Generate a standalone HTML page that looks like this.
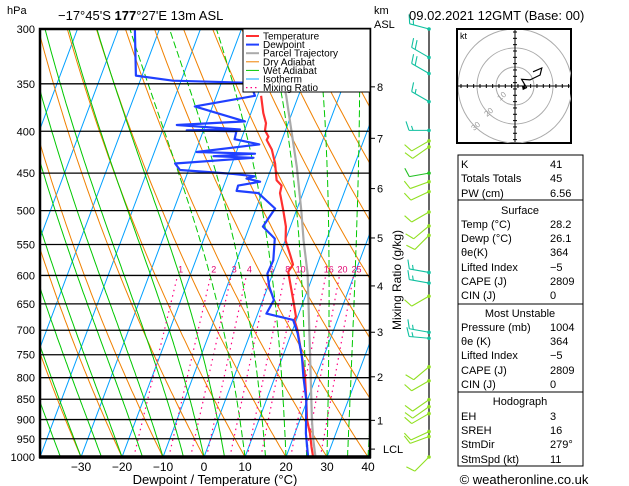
<!DOCTYPE html>
<html><head><meta charset="utf-8"><style>
body{margin:0;background:#fff;}
svg{display:block;font-family:"Liberation Sans",sans-serif;}
</style></head><body>
<svg id="c" width="629" height="486" viewBox="0 0 629 486" xmlns="http://www.w3.org/2000/svg">
<defs><clipPath id="pc"><rect x="40" y="29" width="330" height="428"/></clipPath>
<clipPath id="hc"><rect x="458" y="30" width="113" height="113"/></clipPath></defs>
<g id="grid" clip-path="url(#pc)"></g>
<g id="series" clip-path="url(#pc)"></g>
<g id="axes"></g>
<g id="barbs"></g>
<g id="hodo"></g>
<g id="tables" font-size="11" fill="#000"></g>
<text x="7" y="14" font-size="11">hPa</text>
<text x="58" y="20" font-size="13">−17°45'S <tspan font-weight="bold">177</tspan>°27'E 13m ASL</text>
<text x="374" y="14" font-size="11">km</text>
<text x="374" y="28" font-size="11">ASL</text>
<text x="409" y="20" font-size="13">09.02.2021 12GMT (Base: 00)</text>
<text x="215" y="484" font-size="13" text-anchor="middle">Dewpoint / Temperature (°C)</text>
<text x="0" y="0" font-size="12" text-anchor="middle" transform="translate(401,280) rotate(-90)">Mixing Ratio (g/kg)</text>
<text x="524" y="484" font-size="13" text-anchor="middle">© weatheronline.co.uk</text>
</svg>
<script>
// ---- data ----
const tempP=[362,380,391,399,406,410,421,438,459,466,476,500,523,544,568,582,594,643,674,680,700,754,798,851,900,936,972,1000];
const tempT=[-19.1,-17.0,-15.4,-15.0,-13.6,-13.7,-11.6,-9.5,-7.6,-5.9,-5.6,-3.2,-1.1,0.1,2.7,4.1,3.6,7.4,9.6,9.5,11.2,14.7,17.3,19.7,21.7,23.7,25.3,26.6];
const dewP=[301,342,347,349,362,373,389,393,398,399,400,409,415,424,426,429,431,438,446,451,454,457,461,466,473,476,497,523,541,575,597,619,643,668,680,706,754,798,851,936,1000];
const dewT=[-55.9,-51.5,-42,-23,-20.6,-34.3,-20.7,-37.0,-21.2,-34.1,-21.9,-21.6,-15.1,-29.7,-15.3,-25.2,-15.3,-33.9,-32.1,-18.8,-13.3,-15.1,-11.5,-16.5,-16.4,-10.9,-5.4,-6.7,-2.7,-1.1,-1.3,0.3,2.7,2.1,9.2,11.5,14.7,16.9,19.7,22.7,25.4];
const parcelP=[1000,953,900,754,597,544,500,442,362,300];
const parcelT=[27.2,25.1,22.9,16.7,8.5,4.5,1.2,-3.9,-13.0,-22.5];
const isobars=[300,350,400,450,500,550,600,650,700,750,800,850,900,950,1000];
const xTicks=[-30,-20,-10,0,10,20,30,40];
const mixRatios=[1,2,3,4,6,8,10,16,20,25];
const kmLevels=[1,2,3,4,5,6,7,8];
const kmPress=[902,798,704,618,540,470,408,353];
const lclP=978;
const barbP=[300,325,340,368,399,411,418,450,461,474,502,522,536,595,613,636,704,716,776,807,851,868,885,931,944,1000];
const barbDir=[285,300,300,300,270,240,235,260,250,245,240,230,225,280,280,240,280,275,230,240,235,235,240,245,250,225];
const barbSpd=[15,20,20,15,15,10,10,10,10,10,10,10,10,15,15,10,15,15,10,10,10,10,10,10,10,10];
const hodoU=[6.2,3.5,7.9,13.2,14.1,9.5];
const hodoV=[-1.1,3.5,3.2,5.8,9.5,7.5];

// ---- axis functions ----
const NS='http://www.w3.org/2000/svg';
function yP(p){return 29+355.5*Math.log(p/300);}
function xT(T,p){return 204+4.1*T+0.375*(457-yP(p));}
function el(tag,attrs,parent){const e=document.createElementNS(NS,tag);for(const k in attrs)e.setAttribute(k,attrs[k]);parent.appendChild(e);return e;}
function pathFrom(pts){return pts.map((q,i)=>(i?'L':'M')+q[0].toFixed(1)+' '+q[1].toFixed(1)).join(' ');}
const grid=document.getElementById('grid'),series=document.getElementById('series'),axes=document.getElementById('axes');

for(let T=-110;T<=40;T+=10){
  const e=el('line',{x1:xT(T,1000),y1:yP(1000),x2:xT(T,300),y2:yP(300),stroke:'#00a0ff','stroke-width':1},grid);
  
  
}
for(let th=-50;th<=170;th+=10){
  const pts=[];for(let p=1000;p>=300;p-=10){const Tk=(th+273.15)*Math.pow(p/1000,0.286);pts.push([xT(Tk-273.15,p),yP(p)]);}
  const e=el('path',{d:pathFrom(pts),fill:'none',stroke:'#f08000','stroke-width':1},grid);
  
  
}
function ws(T,p){const es=6.112*Math.exp(17.67*T/(T+243.5));return 0.622*es/(p-es);}
for(let t0=-40;t0<=40;t0+=5){
  const pts=[];let T=t0;
  for(let p=1000;p>=300;p-=5){
    pts.push([xT(T,p),yP(p)]);
    const Tk=T+273.15,w=ws(T,p);
    const d=(287*Tk+2.5e6*w)/(p*(1004+2.5e6*2.5e6*w*0.622/(287*Tk*Tk)));
    T-=d*5;
  }
  const e=el('path',{d:pathFrom(pts),fill:'none',stroke:'#00c800','stroke-width':1,'stroke-dasharray':t0>=10?'7,3':'none'},grid);
  
  
}
function tw(w,p){const e=w*p/(622+w);const l=Math.log(e/6.112);return 243.5*l/(17.67-l);}
mixRatios.forEach(w=>{
  const e=el('line',{x1:xT(tw(w,1000),1000),y1:yP(1000),x2:xT(tw(w,600),600),y2:yP(600),stroke:'#ff0080','stroke-width':1.2,'stroke-dasharray':'1.5,4'},grid);
  
  
  const t=el('text',{x:xT(tw(w,600),600)+3,y:yP(600)-3,'font-size':9,fill:'#e00070','text-anchor':'middle'},grid);
  t.textContent=w;
  
  
});
isobars.forEach(p=>{
  const e=el('line',{x1:40,y1:yP(p),x2:370,y2:yP(p),stroke:'#000','stroke-width':1.3},axes);
  
  
  const t=el('text',{x:35,y:yP(p)+4,'font-size':11,'text-anchor':'end'},axes);
  t.textContent=p;
  
  
});
function prof(P,T,col,w,name){
  const e=el('path',{d:pathFrom(P.map((p,i)=>[xT(T[i],p),yP(p)])),fill:'none',stroke:col,'stroke-width':w,'stroke-linejoin':'round'},series);
  
  
}
prof(parcelP,parcelT,'#aaaaaa',2.2,'parcel-trajectory');
prof(tempP,tempT,'#ff3030',2.2,'temperature-line');
prof(dewP,dewT,'#2040ff',2.2,'dewpoint-line');
const fr=el('rect',{x:40,y:29,width:330,height:428,fill:'none',stroke:'#000','stroke-width':2.5},axes);


const bl=el('line',{x1:39,y1:457,x2:371,y2:457,stroke:'#000','stroke-width':3.5},axes);


xTicks.forEach(T=>{
  const t=el('text',{x:xT(T,1000),y:471,'font-size':12,'text-anchor':'middle'},axes);
  t.textContent=(T<0?'−':'')+Math.abs(T);
  
  
});
kmLevels.forEach((k,i)=>{
  const y=yP(kmPress[i]);
  const l=el('line',{x1:370,y1:y,x2:375,y2:y,stroke:'#000'},axes);
  
  
  const t=el('text',{x:377,y:y+4,'font-size':11},axes);
  t.textContent=k;
  
  
});
{const y=yP(lclP);const l=el('line',{x1:370,y1:y,x2:375,y2:y,stroke:'#000'},axes);


const t=el('text',{x:383,y:y+4,'font-size':11},axes);t.textContent='LCL';

}
{const g=el('g',{},axes);


el('rect',{x:243,y:29,width:127,height:63,fill:'#fff',stroke:'#000','stroke-width':1},g);
const items=[['Temperature','#ff3030',2,'none'],['Dewpoint','#2040ff',2,'none'],['Parcel Trajectory','#aaaaaa',2,'none'],['Dry Adiabat','#f08000',1,'none'],['Wet Adiabat','#00c800',1,'none'],['Isotherm','#00a0ff',1,'none'],['Mixing Ratio','#ff0080',1.2,'1.5,3']];
items.forEach((it,i)=>{const y=36+i*8.6;
  const row=el('g',{},g);
  
  
  el('line',{x1:246,y1:y,x2:259,y2:y,stroke:it[1],'stroke-width':it[2],'stroke-dasharray':it[3]},row);
  const t=el('text',{x:263,y:y+3.5,'font-size':10},row);t.textContent=it[0];});
}
const bg=document.getElementById('barbs');
el('line',{x1:429,y1:29,x2:429,y2:457,stroke:'#000','stroke-width':1.2},bg);
barbP.forEach((p,i)=>{
  const y=yP(p),x=429,d=barbDir[i]*Math.PI/180,L=20;
  const ux=Math.sin(d),uy=-Math.cos(d);
  const col=barbSpd[i]>=15?'#10c0a0':(barbDir[i]>=260?'#20c020':'#90e020');
  const g=el('g',{stroke:col,'stroke-width':1.1,fill:'none'},bg);
  
  
  const ex=x+ux*L,ey=y+uy*L;
  el('line',{x1:x,y1:y,x2:ex,y2:ey},g);
  el('circle',{cx:x,cy:y,r:1.8,fill:col,stroke:'none'},g);
  let s=barbSpd[i],k=0;
  const px=-uy,py=ux;
  while(s>=5){const f=s>=10?1:0.5;const bx=ex-ux*k*4,by=ey-uy*k*4;
    el('line',{x1:bx,y1:by,x2:bx+(px*9+ux*3)*f,y2:by+(py*9+uy*3)*f},g);s-=f*10;k++;}
});
const hg=document.getElementById('hodo');
const cx=515,cy=86,sc=1.9;
el('rect',{x:457,y:29,width:114,height:114,fill:'#fff',stroke:'#000','stroke-width':2},hg);
const hc=el('g',{'clip-path':'url(#hc)'},hg);
[19,38,57].forEach(r=>el('circle',{cx:cx,cy:cy,r:r,fill:'none',stroke:'#aaa','stroke-width':1},hc));
el('line',{x1:458,y1:cy,x2:571,y2:cy,stroke:'#000'},hg);
el('line',{x1:cx,y1:30,x2:cx,y2:142,stroke:'#000'},hg);
for(let v=-54;v<=54;v+=6.33){el('line',{x1:cx+v,y1:cy-2,x2:cx+v,y2:cy+2,stroke:'#000'},hg);el('line',{x1:cx-2,y1:cy+v,x2:cx+2,y2:cy+v,stroke:'#000'},hg);}
{const t=el('text',{x:460,y:39,'font-size':9},hg);t.textContent='kt';}
[['10',500,101],['20',487,117],['30',474,131]].forEach(a=>{const t=el('text',{x:a[1],y:a[2],'font-size':8,fill:'#999',transform:'rotate(-40 '+a[1]+' '+a[2]+')'},hg);t.textContent=a[0];});
{const e=el('path',{d:pathFrom(hodoU.map((u,i)=>[cx+u*sc,cy-hodoV[i]*sc])),fill:'none',stroke:'#000','stroke-width':1.2},hg);


el('path',{d:'M'+(cx+6.2*sc)+' '+(cy+1.1*sc)+' l-5 -3 l1 5 z',fill:'#000'},hg);}
const tg=document.getElementById('tables');
function box(y1,y2,name){const r=el('rect',{x:458,y:y1,width:125,height:y2-y1,fill:'none',stroke:'#000','stroke-width':1},tg);

}
box(155,200,'indices-box');box(200,304,'surface-box');box(304,392,'most-unstable-box');box(392,466,'hodograph-box');
const rows=[[168,'K','41'],[182,'Totals Totals','45'],[197,'PW (cm)','6.56'],
[214,'Surface',null],[228,'Temp (°C)','28.2'],[242,'Dewp (°C)','26.1'],[256,'θe(K)','364'],[271,'Lifted Index','−5'],[285,'CAPE (J)','2809'],[299,'CIN (J)','0'],
[317,'Most Unstable',null],[331,'Pressure (mb)','1004'],[345,'θe (K)','364'],[359,'Lifted Index','−5'],[374,'CAPE (J)','2809'],[388,'CIN (J)','0'],
[405,'Hodograph',null],[420,'EH','3'],[434,'SREH','16'],[448,'StmDir','279°'],[463,'StmSpd (kt)','11']];
rows.forEach(r=>{
  const t=el('text',r[2]===null?{x:520,y:r[0],'text-anchor':'middle'}:{x:461,y:r[0]},tg);t.textContent=r[1];
  
  
  if(r[2]!==null){const v=el('text',{x:550,y:r[0]},tg);v.textContent=r[2];
  
  }
});
</script>
</body></html>
